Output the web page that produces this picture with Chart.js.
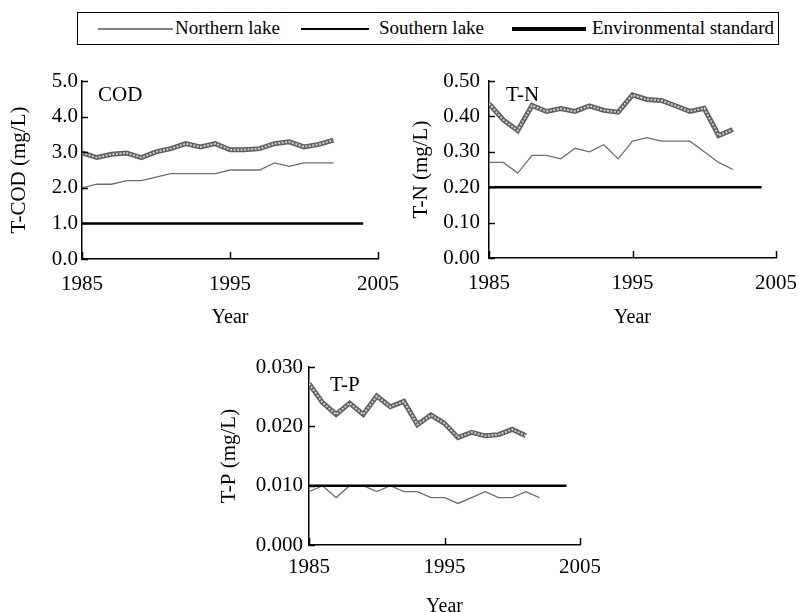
<!DOCTYPE html>
<html>
<head>
<meta charset="utf-8">
<script src="https://cdn.jsdelivr.net/npm/chart.js@4.4.1/dist/chart.umd.min.js"></script>
<style>
body{margin:0;width:799px;height:612px;overflow:hidden;background:#fff;position:relative;font-family:"Liberation Serif","Times New Roman",serif}
canvas{position:absolute}
#legend{position:absolute;left:77px;top:12px;width:702px;height:33px;border:1px solid #000;box-sizing:border-box}
#legend .ln{position:absolute}
#legend .tx{position:absolute;top:4px;font-size:19px;line-height:22px;color:#000;white-space:nowrap}
</style>
</head>
<body>
<div id="legend">
  <div class="ln" style="left:20px;width:75px;top:15px;border-top:2px solid #808080"></div>
  <div class="tx" style="left:97px">Northern lake</div>
  <div class="ln" style="left:223px;width:68px;top:15px;border-top:2px solid #000"></div>
  <div class="tx" style="left:301px">Southern lake</div>
  <div class="ln" style="left:434px;width:74px;top:14px;border-top:4px solid #000"></div>
  <div class="tx" style="left:514px">Environmental standard</div>
</div>
<canvas id="cod" width="400" height="280" style="left:0;top:60px"></canvas>
<canvas id="tn" width="399" height="280" style="left:400px;top:60px"></canvas>
<canvas id="tp" width="400" height="280" style="left:200px;top:350px"></canvas>
<script>
var years = [1985,1986,1987,1988,1989,1990,1991,1992,1993,1994,1995,1996,1997,1998,1999,2000,2001,2002];
var stdYears = [1985, 2004];

var codNorth = [2.0,2.1,2.1,2.2,2.2,2.3,2.4,2.4,2.4,2.4,2.5,2.5,2.5,2.7,2.6,2.7,2.7,2.7];
var codSouth = [2.98,2.85,2.94,2.98,2.85,3.01,3.1,3.24,3.15,3.24,3.07,3.07,3.1,3.24,3.29,3.15,3.22,3.34];
var codStd = [1.0, 1.0];

var tnNorth = [0.27,0.27,0.24,0.29,0.29,0.28,0.31,0.30,0.32,0.28,0.33,0.34,0.33,0.33,0.33,0.30,0.27,0.25];
var tnSouth = [0.436,0.39,0.36,0.431,0.414,0.422,0.414,0.43,0.417,0.412,0.461,0.448,0.445,0.43,0.414,0.423,0.346,0.363];
var tnStd = [0.20, 0.20];

var tpNorth = [0.009,0.010,0.008,0.010,0.010,0.009,0.010,0.009,0.009,0.008,0.008,0.007,0.008,0.009,0.008,0.008,0.009,0.008];
var tpSouth = [0.0272,0.0240,0.0220,0.0239,0.0220,0.0251,0.0233,0.0242,0.0203,0.0219,0.0205,0.0181,0.0190,0.0184,0.0186,0.0195,0.0184];
var tpStd = [0.010, 0.010];

var codTicks = {max: 5, step: 1, dec: 1};
var tnTicks = {max: 0.5, step: 0.1, dec: 2};
var tpTicks = {max: 0.03, step: 0.01, dec: 3};

var serif = '"Liberation Serif", "Times New Roman", serif';
Chart.defaults.font.family = serif;
Chart.defaults.color = '#000';

function pts(xs, ys){
  var out = [];
  for (var i = 0; i < ys.length; i++) out.push({x: xs[i], y: ys[i]});
  return out;
}

// inward tick marks + panel label
var extras = {
  id: 'extras',
  afterDraw: function(chart, args, o){
    var ctx = chart.ctx, ca = chart.chartArea;
    var xs = chart.scales.x, ys = chart.scales.y;
    ctx.save();
    ctx.strokeStyle = '#000';
    ctx.lineWidth = 1.5;
    ys.ticks.forEach(function(t){
      var py = Math.round(ys.getPixelForValue(t.value)) + 0.5;
      ctx.beginPath(); ctx.moveTo(ca.left, py); ctx.lineTo(ca.left + 6, py); ctx.stroke();
    });
    xs.ticks.forEach(function(t){
      var px = Math.round(xs.getPixelForValue(t.value)) + 0.5;
      ctx.beginPath(); ctx.moveTo(px, ca.bottom); ctx.lineTo(px, ca.bottom - 7); ctx.stroke();
    });
    ctx.fillStyle = '#000';
    ctx.font = '21px ' + serif;
    ctx.textBaseline = 'middle';
    ctx.fillText(o.text, ca.left + o.dx, ca.top + o.dy);
    ctx.restore();
  }
};

function makeChart(id, c){
  new Chart(document.getElementById(id), {
    type: 'line',
    data: {
      datasets: [
        {data: pts(years, c.north), borderColor: '#6e6e6e', borderWidth: 1.3, order: 3},
        {data: pts(years, c.south), borderColor: '#5e5e5e', borderWidth: 5, order: 2},
        {data: pts(years, c.south), borderColor: '#d0d0d0', borderWidth: 2, borderDash: [2, 1.5], order: 1},
        {data: pts(stdYears, c.std), borderColor: '#000', borderWidth: 2.5, order: 0}
      ]
    },
    options: {
      responsive: false,
      animation: false,
      events: [],
      elements: {point: {radius: 0}, line: {tension: 0, borderCapStyle: 'butt'}},
      layout: {padding: {top: c.top, right: c.right, left: 0, bottom: 0}},
      plugins: {
        legend: {display: false},
        tooltip: {enabled: false},
        extras: c.label
      },
      scales: {
        x: {
          type: 'linear', min: 1985, max: 2005,
          grid: {display: false, drawTicks: false},
          border: {display: true, color: '#000', width: 1.5},
          ticks: {stepSize: 10, padding: c.xtkPad, color: '#000', font: {family: serif, size: 21},
            callback: function(v){ return String(v); }},
          title: {display: true, text: 'Year', color: '#000', font: {family: serif, size: 20},
            padding: {top: 0, bottom: c.xtPad}},
          afterFit: function(s){ s.height = c.xh; s.paddingLeft = 0; s.paddingRight = 0; }
        },
        y: {
          min: 0, max: c.t.max,
          grid: {display: false, drawTicks: false},
          border: {display: true, color: '#000', width: 1.5},
          ticks: {stepSize: c.t.step, padding: c.ytkPad, color: '#000', font: {family: serif, size: 21},
            callback: function(v){ return Number(v).toFixed(c.t.dec); }},
          title: {display: true, text: c.ytitle, color: '#000', font: {family: serif, size: 21},
            padding: {top: c.ytPad, bottom: 0}},
          afterFit: function(s){ s.width = c.yw; s.paddingTop = 0; s.paddingBottom = 0; }
        }
      }
    },
    plugins: [extras]
  });
}

makeChart('cod', {north: codNorth, south: codSouth, std: codStd, t: codTicks,
  ytitle: 'T-COD (mg/L)', label: {text: 'COD', dx: 16, dy: 14},
  top: 21, right: 22, yw: 82, xh: 81, xtPad: 10, ytPad: 7, ytkPad: 4, xtkPad: 13});
makeChart('tn', {north: tnNorth, south: tnSouth, std: tnStd, t: tnTicks,
  ytitle: 'T-N (mg/L)', label: {text: 'T-N', dx: 17, dy: 14},
  top: 21, right: 23, yw: 89, xh: 82, xtPad: 10, ytPad: 9, ytkPad: 9, xtkPad: 13});
makeChart('tp', {north: tpNorth, south: tpSouth, std: tpStd, t: tpTicks,
  ytitle: 'T-P (mg/L)', label: {text: 'T-P', dx: 21, dy: 18},
  top: 17, right: 20, yw: 109, xh: 85, xtPad: 11, ytPad: 17, ytkPad: 6, xtkPad: 10});
</script>
</body>
</html>
